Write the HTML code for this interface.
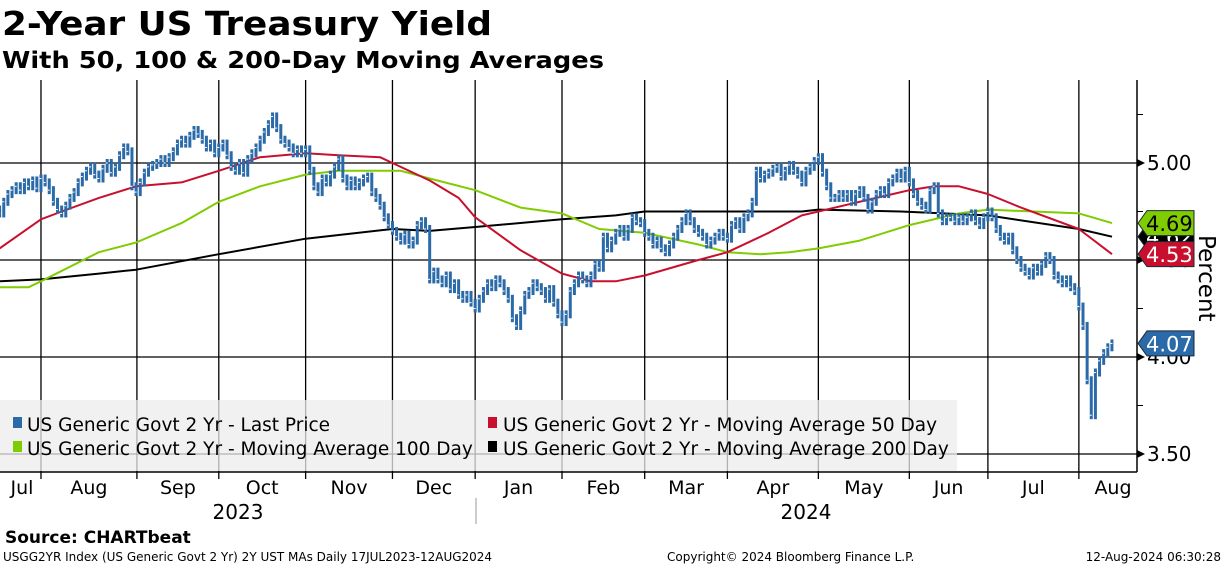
<!DOCTYPE html>
<html><head><meta charset="utf-8"><style>
html,body{margin:0;padding:0;background:#fff;}
svg{display:block;font-family:"DejaVu Sans","Liberation Sans",sans-serif;}
</style></head><body>
<svg id="chart" width="1224" height="566" viewBox="0 0 1224 566">
<text x="2" y="35" font-size="33" font-weight="bold" textLength="490" lengthAdjust="spacingAndGlyphs">2-Year US Treasury Yield</text>
<text x="2" y="68" font-size="23" font-weight="bold" textLength="602" lengthAdjust="spacingAndGlyphs">With 50, 100 &amp; 200-Day Moving Averages</text>
<g id="grid"></g>
<rect x="0" y="400" width="957" height="71" fill="#ececec" fill-opacity="0.75"/>
<g id="series"></g>
<line x1="0" y1="472" x2="1137" y2="472" stroke="#000" stroke-width="1.5"/>
<line x1="1137" y1="80" x2="1137" y2="472" stroke="#000" stroke-width="1.5"/>
<g id="axes"></g>
<text transform="translate(1199,235) rotate(90)" font-size="23">Percent</text>
<g font-size="18.5">
<g><rect x="13" y="417" width="9" height="11" fill="#2b6aa8"/><text x="27" y="431">US Generic Govt 2 Yr - Last Price</text></g>
<g><rect x="13" y="441" width="9" height="11" fill="#7fcc00"/><text x="27" y="455">US Generic Govt 2 Yr - Moving Average 100 Day</text></g>
<g><rect x="488" y="417" width="9" height="11" fill="#c8102e"/><text x="503" y="431">US Generic Govt 2 Yr - Moving Average 50 Day</text></g>
<g><rect x="488" y="441" width="9" height="11" fill="#000"/><text x="503" y="455">US Generic Govt 2 Yr - Moving Average 200 Day</text></g>
</g>
<text x="238" y="519" font-size="20" text-anchor="middle">2023</text>
<text x="806" y="519" font-size="20" text-anchor="middle">2024</text>
<line x1="476" y1="498" x2="476" y2="524" stroke="#999"/>
<text x="5" y="543" font-size="17" font-weight="bold">Source: CHARTbeat</text>
<text x="3" y="561" font-size="12">USGG2YR Index (US Generic Govt 2 Yr) 2Y UST MAs  Daily 17JUL2023-12AUG2024</text>
<text x="667" y="561" font-size="12">Copyright© 2024 Bloomberg Finance L.P.</text>
<text x="1221" y="561" font-size="12" text-anchor="end">12-Aug-2024 06:30:28</text>
</svg>
<script>
const closes = [
4.76,4.74,4.80,4.84,4.86,4.88,4.86,4.90,4.88,4.91,4.87,
4.92,4.90,4.86,4.80,4.76,4.74,4.78,4.82,4.85,4.90,4.93,4.96,4.98,4.94,4.92,4.97,5.00,4.95,4.98,5.04,5.08,5.06,4.88,
4.85,4.90,4.95,4.98,4.99,5.00,5.02,5.00,5.03,5.06,5.10,5.12,5.10,5.14,5.17,5.15,5.12,5.08,5.10,5.05,
5.08,5.10,5.04,4.98,4.96,5.00,4.95,5.02,5.05,5.08,5.12,5.16,5.20,5.24,5.18,5.12,5.10,5.08,5.05,5.07,5.05,5.07,
4.96,4.88,4.85,4.92,4.90,4.94,4.98,5.02,4.92,4.88,4.91,4.88,4.90,4.92,4.93,4.85,4.82,4.78,4.72,4.68,4.65,
4.62,4.60,4.63,4.58,4.60,4.68,4.70,4.66,4.40,4.44,4.40,4.38,4.42,4.35,4.38,4.32,4.30,4.32,4.28,4.25,
4.30,4.34,4.38,4.36,4.40,4.38,4.34,4.30,4.20,4.16,4.24,4.32,4.34,4.38,4.36,4.34,4.30,4.35,4.28,4.22,4.18,
4.22,4.34,4.38,4.42,4.40,4.38,4.42,4.48,4.46,4.62,4.56,4.60,4.64,4.66,4.62,4.66,4.72,4.70,4.69,4.64,
4.62,4.58,4.60,4.56,4.54,4.58,4.62,4.66,4.70,4.74,4.70,4.66,4.64,4.62,4.58,4.60,4.62,4.64,4.62,4.61,
4.68,4.70,4.66,4.72,4.74,4.80,4.96,4.92,4.94,4.95,4.97,4.98,4.93,4.96,4.99,4.96,4.94,4.90,4.96,4.98,5.01,5.03,
4.95,4.88,4.82,4.82,4.84,4.82,4.84,4.80,4.84,4.86,4.82,4.76,4.80,4.84,4.86,4.84,4.90,4.92,4.95,4.92,4.96,4.90,
4.84,4.80,4.78,4.76,4.86,4.88,4.74,4.70,4.72,4.72,4.70,4.72,4.70,4.72,4.74,4.70,4.68,4.72,4.75,
4.72,4.66,4.62,4.60,4.62,4.55,4.50,4.46,4.44,4.42,4.46,4.44,4.48,4.52,4.50,4.42,4.40,4.38,4.40,4.36,4.34,
4.26,4.16,3.88,3.70,3.92,3.98,4.02,4.05,4.07];
const ma50Idx = [1,11,16,25,34,45,54,64,75,83,93,98,105,112,116,127,137,144,150,157,170,177,187,195,199,207,221,227,233,240,248,262,270];
const ma50 = [4.56,4.71,4.75,4.82,4.88,4.90,4.96,5.03,5.05,5.04,5.03,4.98,4.91,4.82,4.72,4.55,4.43,4.39,4.39,4.42,4.50,4.54,4.64,4.73,4.75,4.79,4.86,4.88,4.88,4.84,4.77,4.66,4.53];
const ma100Idx = [1,8,11,25,34,45,54,64,75,83,93,98,105,116,127,137,146,157,170,177,185,192,199,209,221,233,240,262,270];
const ma100 = [4.36,4.36,4.39,4.54,4.59,4.69,4.80,4.88,4.94,4.96,4.96,4.96,4.92,4.86,4.77,4.74,4.66,4.64,4.58,4.54,4.53,4.54,4.56,4.60,4.68,4.74,4.76,4.74,4.69];
const ma200Idx = [1,11,25,34,54,75,96,105,116,137,150,157,177,195,199,219,240,262,270];
const ma200 = [4.39,4.40,4.43,4.45,4.53,4.61,4.66,4.65,4.67,4.71,4.73,4.75,4.75,4.75,4.76,4.75,4.73,4.66,4.62];
const monthStarts = [11,34.2,54,75,96,116,137,157,177,199,221,240,262];
const monthLabels = ["Jul","Aug","Sep","Oct","Nov","Dec","Jan","Feb","Mar","Apr","May","Jun","Jul","Aug"];
const yTicks = [3.5,4.0,4.5,5.0];
const yTickLabels = ["3.50","4.00","4.50","5.00"];
const yMinor = [3.75,4.25,4.75,5.25];
const lastValues = [4.69,4.53,4.07];

const NS = "http://www.w3.org/2000/svg";
const X = i => -4.5 + i * 4.135;
const Y = v => 163 + (5 - v) * 194;
function mk(tag, attrs, parent) {
  const e = document.createElementNS(NS, tag);
  for (const k in attrs) e.setAttribute(k, attrs[k]);
  parent.appendChild(e);
  return e;
}
const grid = document.getElementById('grid');
const series = document.getElementById('series');
const axes = document.getElementById('axes');

yTicks.forEach((t, k) => {
  const l = mk('line', {x1: 0, x2: 1137, y1: Y(t), y2: Y(t), stroke: '#000', 'stroke-width': 1.3}, grid);
  
  
  const tk = mk('path', {d: `M1137 ${Y(t)-4} L1145 ${Y(t)} L1137 ${Y(t)+4}Z`, fill: '#000'}, axes);
  
  
  const tx = mk('text', {x: 1147, y: Y(t) + 7, 'font-size': 20}, axes);
  tx.textContent = yTickLabels[k];
  
  
});
yMinor.forEach(t => {
  const m = mk('line', {x1: 1137, x2: 1143, y1: Y(t), y2: Y(t), stroke: '#000'}, axes);
  
  
});
const bounds = [0].concat(monthStarts.map(i => X(i)), [1137]);
monthStarts.forEach(i => {
  const x = X(i);
  const l = mk('line', {x1: x, x2: x, y1: 80, y2: 479, stroke: '#000', 'stroke-width': 1.3}, grid);
  
  
});
monthLabels.forEach((m, k) => {
  const cx = k === 0 ? 22 : (k === monthLabels.length - 1 ? 1113 : (bounds[k] + bounds[k + 1]) / 2);
  const t = mk('text', {x: cx, y: 494, 'font-size': 19, 'text-anchor': 'middle'}, axes);
  t.textContent = m;
  
  
});

function line(idx, vals, color, name) {
  const d = idx.map((i, k) => (k ? 'L' : 'M') + X(i).toFixed(1) + ' ' + Y(vals[k]).toFixed(1)).join(' ');
  const p = mk('path', {d: d, fill: 'none', stroke: color, 'stroke-width': 2, 'stroke-linejoin': 'round'}, series);
  
  
}
line(ma200Idx, ma200, '#000', 'ma200-line');
line(ma100Idx, ma100, '#7fcc00', 'ma100-line');
line(ma50Idx, ma50, '#c8102e', 'ma50-line');

closes.forEach((c, i) => {
  const prev = i ? closes[i - 1] : c + 0.03;
  let top = Y(Math.max(prev, c)) - 4, bot = Y(Math.min(prev, c)) + 4;
  const r = mk('rect', {x: X(i) - 1.5, y: top, width: 3, height: bot - top, fill: '#2b6aa8'}, series);
  
  
  const tk = mk('line', {x1: X(i) - 1.5, x2: X(i) + 0.5, y1: Y(c), y2: Y(c), stroke: '#fff', 'stroke-width': 1}, series);
  
  
});

function tag(v, fill, txtColor, name) {
  const y = Y(v);
  const b = mk('path', {d: `M1138 ${y} L1147 ${y-12.5} L1194 ${y-12.5} L1194 ${y+12.5} L1147 ${y+12.5}Z`, fill: fill, stroke: '#1a2a3a', 'stroke-width': 1}, axes);
  
  
  const t = mk('text', {x: 1146, y: y + 8, 'font-size': 21, fill: txtColor}, axes);
  t.textContent = v.toFixed(2);
  
  
}
tag(4.62, '#000', '#fff', 'ma200-value-tag');
tag(lastValues[0], '#7fcc00', '#000', 'ma100-value-tag');
tag(lastValues[1], '#c8102e', '#fff', 'ma50-value-tag');
tag(lastValues[2], '#2b6aa8', '#fff', 'last-price-value-tag');
</script>
</body></html>
